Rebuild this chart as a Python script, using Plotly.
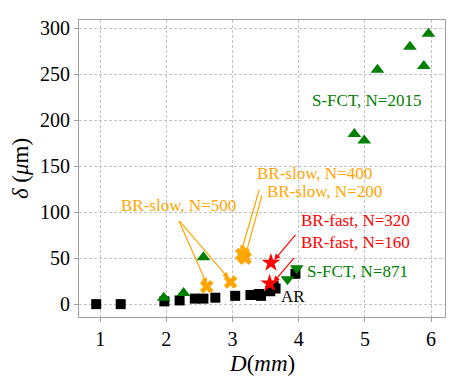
import plotly.graph_objects as go

# AR (black squares)
ar_D = [0.94, 1.31, 1.97, 2.2, 2.43, 2.56, 2.74, 3.04, 3.27, 3.34, 3.40, 3.43, 3.57, 3.62, 3.65, 3.95]
ar_delta = [0, 0, 3, 4, 6, 6, 7, 9, 10, 10, 11, 9, 14, 20, 17, 33]

# S-FCT, N=2015 (green up triangles)
sfct2015_D = [1.96, 2.26, 2.56, 4.84, 4.99, 5.19, 5.68, 5.89, 5.96]
sfct2015_delta = [7, 12, 51, 185, 178, 255, 280, 259, 294]

# S-FCT, N=871 (green down triangles)
sfct871_D = [3.83, 3.97]
sfct871_delta = [27, 39]

# BR-fast (red stars): N=320, N=160
brfast_D = [3.58, 3.56]
brfast_delta = [45, 22.5]

# BR-slow (orange X): N=500 (two), N=400, N=200
brslow_D = [2.61, 2.97, 3.14, 3.19, 3.17]
brslow_delta = [19, 24, 54, 50, 52]

serif = "Liberation Serif"
green = "#008000"
orange = "#FFA500"
red = "#FF0000"

fig = go.Figure()
fig.add_trace(go.Scatter(x=ar_D, y=ar_delta, mode="markers",
                         marker=dict(symbol="square", size=10, color="black")))
fig.add_trace(go.Scatter(x=sfct2015_D, y=sfct2015_delta, mode="markers",
                         marker=dict(symbol="triangle-up", size=12, color=green)))
fig.add_trace(go.Scatter(x=sfct871_D, y=sfct871_delta, mode="markers",
                         marker=dict(symbol="triangle-down", size=12, color=green)))
fig.add_trace(go.Scatter(x=brfast_D, y=brfast_delta, mode="markers",
                         marker=dict(symbol="star", size=14, color=red)))
fig.add_trace(go.Scatter(x=brslow_D, y=brslow_delta, mode="markers",
                         marker=dict(symbol="x", size=12, color=orange)))

# labels
labels = [
    ("S-FCT, N=2015", 5.03, 222, green, "center"),
    ("S-FCT, N=871", 4.1, 36, green, "left"),
    ("BR-fast, N=320", 4.0, 91, red, "left"),
    ("BR-fast, N=160", 4.0, 67, red, "left"),
    ("BR-slow, N=500", 2.19, 107, orange, "center"),
    ("BR-slow, N=400", 4.24, 142, orange, "center"),
    ("BR-slow, N=200", 4.39, 122, orange, "center"),
    ("AR", 3.7, 8, "black", "left"),
]
for txt, x, y, c, al in labels:
    fig.add_annotation(x=x, y=y, text=txt, showarrow=False, xanchor=al,
                       font=dict(family=serif, size=17, color=c))

# arrows: (tail x, tail y, head x, head y, colour)
arrows = [
    (2.18, 92, 2.61, 22, orange),
    (2.18, 92, 2.94, 28, orange),
    (3.41, 126, 3.13, 57, orange),
    (3.45, 120, 3.2, 54, orange),
    (3.97, 77, 3.63, 48, red),
    (3.95, 52, 3.62, 24, red),
]
for tx, ty, hx, hy, c in arrows:
    fig.add_annotation(x=hx, y=hy, ax=tx, ay=ty, axref="x", ayref="y", text="",
                       showarrow=True, arrowhead=2, arrowsize=1, arrowwidth=1.2,
                       arrowcolor=c)

# x axis title placed by hand (closer to the tick labels)
fig.add_annotation(x=0.5, y=-0.155, xref="paper", yref="paper", showarrow=False,
                   yanchor="middle", text="<i>D</i>(<i>mm</i>)",
                   font=dict(family=serif, size=23, color="black"))

axis_common = dict(showgrid=True, gridcolor="#c4c4c4", griddash="3px,2px", gridwidth=1,
                   showline=True, linecolor="#a0a0a0", linewidth=1, mirror=True,
                   ticks="outside", ticklen=4, tickcolor="#a0a0a0", zeroline=False,
                   automargin=False,
                   tickfont=dict(family=serif, size=20, color="black"))

# page body has an 8px margin, so the figure is 8px smaller and left/top margins shifted
fig.update_layout(
    width=449, height=375,
    margin=dict(l=71, r=12, t=12, b=66),
    plot_bgcolor="white", paper_bgcolor="white",
    font=dict(family=serif, color="black"),
    showlegend=False,
    xaxis=dict(range=[0.68, 6.21], tickvals=[1, 2, 3, 4, 5, 6], **axis_common),
    yaxis=dict(range=[-14, 309], tickvals=[0, 50, 100, 150, 200, 250, 300],
               title=dict(text="<i>δ</i> (<i>μ</i>m)", font=dict(family=serif, size=23, color="black"), standoff=14),
               **axis_common),
)

fig.write_html("out.html")
